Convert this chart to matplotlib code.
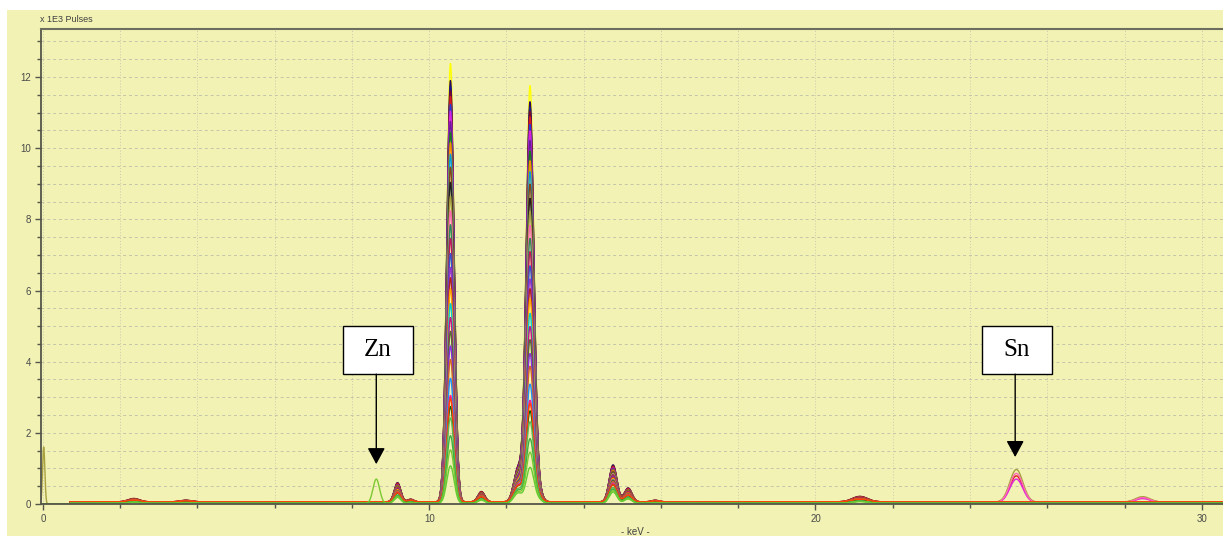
import numpy as np
import matplotlib
matplotlib.use('Agg')
import matplotlib.pyplot as plt
import matplotlib.ticker as mticker
from matplotlib.patches import Rectangle

######## DATA ############
# Pb L lines that scale with each trace's main peak height
main_keV = [10.55, 12.61]
main_rel = [1.0, 0.945]
main_sig = [0.095, 0.10]

# smaller lines (Pb Ll, Lb4, Lb3, Lg, plus low-energy bumps), height at full scale
minor_keV = [9.18, 9.52, 11.35, 12.30, 12.82, 14.76, 15.15, 15.85, 2.35, 3.70, 21.15]
minor_max = [0.55, 0.08, 0.30, 0.95, 0.35, 1.05, 0.40, 0.05, 0.10, 0.05, 0.16]
minor_sig = [0.085, 0.08, 0.09, 0.11, 0.10, 0.10, 0.10, 0.10, 0.15, 0.15, 0.20]

# Sn K lines
sn_keV = [25.20, 28.47]
sn_rel = [1.0, 0.17]
sn_sig = [0.17, 0.19]

zn_keV = 8.63
zn_sig = 0.085

trace_colors = ['#ffff00', '#2b0a5e', '#1a1a8c', '#7a0a2a', '#d81b1b', '#1f3fd6',
                '#e01ee0', '#6a1b9a', '#1b7a1b', '#ff8c00', '#00a0e0', '#8b4513',
                '#202020', '#a8a040', '#ff69b4', '#2e8b57', '#c2185b', '#3355cc',
                '#9932cc', '#b22222', '#ffa500', '#00ced1', '#c71585', '#556b2f',
                '#8a2be2', '#d2691e', '#1e90ff', '#ff1493', '#006400', '#ff4500',
                '#5cb85c', '#3cb043', '#7cc832', '#66cc33']
trace_la = [12.35, 11.85, 11.7, 11.55, 11.4, 11.2, 11.0, 10.7, 10.4, 10.1, 9.8, 9.4,
            9.0, 8.6, 8.2, 7.8, 7.4, 7.0, 6.6, 6.3, 6.0, 5.6, 5.2, 4.8, 4.4, 4.0,
            3.5, 3.0, 2.7, 2.9, 2.4, 1.9, 1.5, 1.05]
trace_minor = [1.0, 1.0, 0.98, 0.96, 0.95, 0.93, 0.92, 0.9, 0.88, 0.86, 0.84, 0.82,
               0.8, 0.78, 0.76, 0.74, 0.72, 0.7, 0.68, 0.66, 0.64, 0.62, 0.6, 0.58,
               0.56, 0.54, 0.52, 0.5, 0.48, 0.46, 0.42, 0.38, 0.34, 0.3]
trace_base = [0.03, 0.05, 0.04, 0.06, 0.05, 0.03, 0.04, 0.05, 0.04, 0.05, 0.03, 0.06,
              0.04, 0.05, 0.04, 0.05, 0.06, 0.04, 0.05, 0.06, 0.05, 0.03, 0.04, 0.05,
              0.04, 0.06, 0.03, 0.05, 0.04, 0.06, 0.02, 0.02, 0.02, 0.02]
trace_zn = [0]*32 + [0.68, 0]
trace_sn = [0, 0, 0, 0, 0.74, 0, 0.66, 0, 0, 0, 0, 0, 0, 0.92, 0.82] + [0]*19
trace_zero = [0]*13 + [1.6] + [0]*20
##############################

energy = np.arange(-0.05, 30.56, 0.005)


def line(e0, h, s):
    return h * np.exp(-0.5 * ((energy - e0) / s) ** 2)


######## FIGURE ############
bg = '#f1f2b3'
fig = plt.figure(figsize=(12.23, 5.36), dpi=100, facecolor='white')
fig.patches.append(Rectangle((7/1223, 0), 1, (536-10)/536, transform=fig.transFigure,
                             facecolor=bg, edgecolor='none', zorder=-5))

ax = fig.add_axes([41/1223, 32/536, 1182/1223, 475/536])
ax.set_facecolor(bg)

for i in range(len(trace_colors)):
    y = np.where(energy > 0.7, trace_base[i], 0.0)
    for e0, r, s in zip(main_keV, main_rel, main_sig):
        y = y + line(e0, trace_la[i] * r, s)
    for e0, h, s in zip(minor_keV, minor_max, minor_sig):
        y = y + line(e0, h * trace_minor[i], s)
    for e0, r, s in zip(sn_keV, sn_rel, sn_sig):
        y = y + line(e0, trace_sn[i] * r, s)
    y = y + line(zn_keV, trace_zn[i], zn_sig)
    y = y + line(0.02, trace_zero[i], 0.03)
    ax.plot(energy, y, color=trace_colors[i], lw=1.0, zorder=2 + i * 0.01)

ax.set_xlim(-0.05, 30.55)
ax.set_ylim(0, 13.35)

ax.xaxis.set_major_locator(mticker.MultipleLocator(10))
ax.xaxis.set_minor_locator(mticker.MultipleLocator(2))
ax.yaxis.set_major_locator(mticker.MultipleLocator(2))
ax.yaxis.set_minor_locator(mticker.MultipleLocator(0.5))

ax.set_axisbelow(True)
ax.grid(axis='y', which='both', color='#c4c4aa', lw=0.7, dashes=(3, 3))
ax.grid(axis='x', which='both', color='#cacab0', lw=0.7, dashes=(1, 2))

for side in ['left', 'bottom']:
    ax.spines[side].set_color('#55554a')
    ax.spines[side].set_linewidth(1.3)
ax.spines['top'].set_color('#6e6e60')
ax.spines['top'].set_linewidth(1.5)
ax.spines['right'].set_visible(False)

ax.tick_params(which='both', direction='out', color='#55554a', labelcolor='#4a4a4a',
               labelsize=7, width=1.0)
ax.tick_params(which='major', length=4.5, pad=2.5)
ax.tick_params(which='minor', length=3)
for lab in ax.get_xticklabels() + ax.get_yticklabels():
    lab.set_family('Liberation Sans')

fig.text(40/1223, (536-20)/536, 'x 1E3 Pulses', fontsize=6.5, color='#404040',
         family='Liberation Sans', va='center', ha='left')
fig.text(635/1223, (536-532)/536, '- keV -', fontsize=7, color='#404040',
         family='Liberation Sans', va='center', ha='center')

######## ANNOTATIONS ############
labels = ['Zn', 'Sn']
box_x = [(7.76, 9.57), (24.30, 26.13)]
arrow_x = [8.63, 25.17]
arrow_tip = [1.12, 1.32]
box_y = (3.65, 5.0)

for lab, bx, axx, tip in zip(labels, box_x, arrow_x, arrow_tip):
    ax.add_patch(Rectangle((bx[0], box_y[0]), bx[1] - bx[0], box_y[1] - box_y[0],
                           facecolor='white', edgecolor='black', lw=1.0, zorder=10))
    ax.text((bx[0] + bx[1]) / 2, (box_y[0] + box_y[1]) / 2, lab, fontsize=18,
            family='Liberation Serif', ha='center', va='center', zorder=11)
    ax.annotate('', xy=(axx, tip), xytext=(axx, box_y[0]),
                arrowprops=dict(arrowstyle='-|>,head_length=0.5,head_width=0.27',
                                mutation_scale=20, color='black', lw=1.0,
                                shrinkA=0, shrinkB=0), zorder=10)

plt.savefig('out.png', dpi=100, facecolor='white')
